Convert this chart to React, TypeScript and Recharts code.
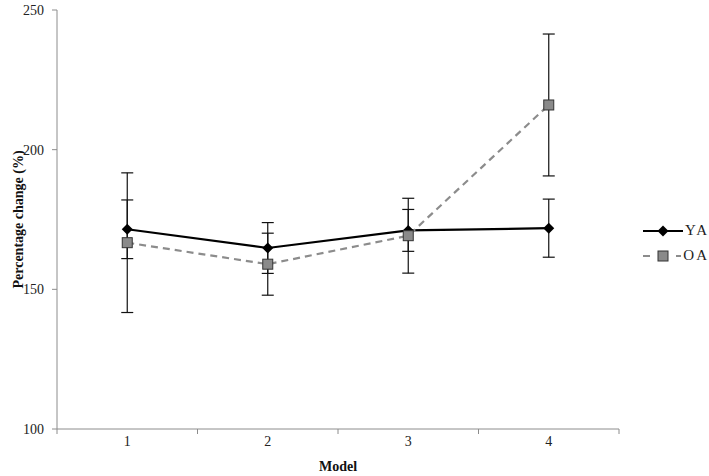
import { LineChart, Line, XAxis, YAxis, ErrorBar, Legend } from 'recharts';

const models = [1, 2, 3, 4];
const yaValues = [171.5, 164.8, 171.1, 171.9];
const yaErrors = [10.5, 9.1, 7.5, 10.4];
const oaValues = [166.7, 159.0, 169.2, 216.0];
const oaErrors = [25.0, 11.1, 13.4, 25.4];
const xTicks = [0.5, 1, 1.5, 2, 2.5, 3, 3.5, 4, 4.5];
const yTicks = [100, 150, 200, 250];

const data = models.map((m, i) => ({
  model: m,
  ya: yaValues[i],
  yaErr: yaErrors[i],
  oa: oaValues[i],
  oaErr: oaErrors[i],
}));

const FONT = "'Liberation Serif', 'Times New Roman', serif";
const AXIS = '#8c8c8c';

const Diamond = (props: any) => {
  const { cx, cy } = props;
  if (cx == null || cy == null) return null;
  const s = 5.5;
  return (
    <polygon
      points={`${cx},${cy - s} ${cx + s},${cy} ${cx},${cy + s} ${cx - s},${cy}`}
      fill="#000"
    />
  );
};

const Square = (props: any) => {
  const { cx, cy } = props;
  if (cx == null || cy == null) return null;
  return <rect x={cx - 5} y={cy - 5} width={10} height={10} fill="#8a8a8a" stroke="#333" strokeWidth={1} />;
};

// integer ticks get a label, half ticks get the little mark between categories
const XTick = (props: any) => {
  const { x, y, payload } = props;
  const v = payload.value;
  if (Number.isInteger(v)) {
    return (
      <text x={x} y={y + 17} textAnchor="middle" fontFamily={FONT} fontSize={14} fill="#222">
        {v}
      </text>
    );
  }
  return <line x1={x} y1={y} x2={x} y2={y + 5} stroke={AXIS} strokeWidth={1} />;
};

const LegendBox = () => (
  <div style={{ fontFamily: FONT, fontSize: 15, color: '#222' }}>
    <div style={{ display: 'flex', alignItems: 'center', height: 25 }}>
      <svg width={40} height={12}>
        <line x1={0} y1={6} x2={40} y2={6} stroke="#000" strokeWidth={2.2} />
        <polygon points="20,0.5 25.5,6 20,11.5 14.5,6" fill="#000" />
      </svg>
      <span style={{ marginLeft: 2, letterSpacing: 2 }}>YA</span>
    </div>
    <div style={{ display: 'flex', alignItems: 'center', height: 25 }}>
      <svg width={40} height={12}>
        <line x1={0} y1={6} x2={40} y2={6} stroke="#8c8c8c" strokeWidth={2.2} strokeDasharray="7 26" />
        <rect x={15} y={1} width={10} height={10} fill="#8a8a8a" stroke="#333" strokeWidth={1} />
      </svg>
      <span style={{ marginLeft: 2, letterSpacing: 2 }}>OA</span>
    </div>
  </div>
);

export default function App() {
  return (
    <div style={{ position: 'absolute', left: 0, top: 0, background: '#fff' }}>
      <LineChart width={709} height={476} data={data} margin={{ top: 10, right: 90, left: 0, bottom: 0 }}>
        <XAxis
          dataKey="model"
          type="number"
          domain={[0.5, 4.5]}
          ticks={xTicks}
          interval={0}
          tick={<XTick />}
          tickLine={false}
          tickSize={0}
          tickMargin={0}
          height={47}
          stroke={AXIS}
          label={{
            value: 'Model',
            position: 'insideBottom',
            offset: 5,
            fontFamily: FONT,
            fontSize: 14,
            fontWeight: 'bold',
            fill: '#111',
          }}
        />
        <YAxis
          domain={[100, 250]}
          ticks={yTicks}
          width={57}
          stroke={AXIS}
          tickSize={5}
          tickMargin={8}
          tick={{ fontFamily: FONT, fontSize: 14, fill: '#222' }}
          label={{
            value: 'Percentage change (%)',
            content: (p: any) => {
              const vb = p.viewBox;
              const cx = vb.x + 18;
              const cy = vb.y + vb.height / 2;
              return (
                <text
                  x={cx}
                  y={cy}
                  transform={`rotate(-90 ${cx} ${cy})`}
                  textAnchor="middle"
                  dominantBaseline="central"
                  fontFamily={FONT}
                  fontSize={14}
                  fontWeight="bold"
                  fill="#111"
                >
                  Percentage change (%)
                </text>
              );
            },
          }}
        />
        <Legend
          layout="vertical"
          align="center"
          verticalAlign="middle"
          content={<LegendBox />}
          wrapperStyle={{ left: 643, top: 218, width: 66 }}
        />
        <Line
          dataKey="ya"
          name="YA"
          stroke="#000"
          strokeWidth={2.2}
          dot={<Diamond />}
          activeDot={false}
          isAnimationActive={false}
        >
          <ErrorBar dataKey="yaErr" width={6} stroke="#111" strokeWidth={1.2} direction="y" />
        </Line>
        <Line
          dataKey="oa"
          name="OA"
          stroke="#8c8c8c"
          strokeWidth={2.2}
          strokeDasharray="7 5"
          dot={<Square />}
          activeDot={false}
          isAnimationActive={false}
        >
          <ErrorBar dataKey="oaErr" width={6} stroke="#111" strokeWidth={1.2} direction="y" />
        </Line>
      </LineChart>
    </div>
  );
}
